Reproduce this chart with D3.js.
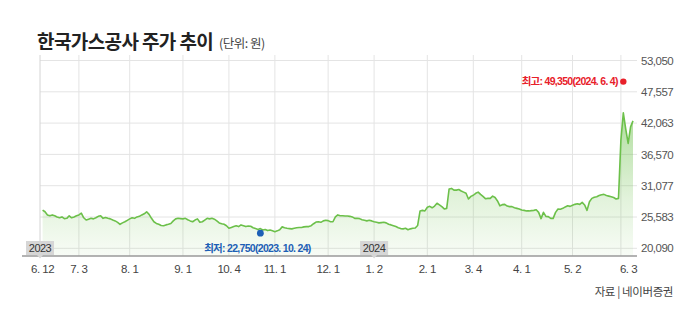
<!DOCTYPE html>
<html>
<head>
<meta charset="utf-8">
<script src="https://cdn.jsdelivr.net/npm/d3@7"></script>
<style>
html, body { margin: 0; padding: 0; background: #fff; }
svg { display: block; }
</style>
</head>
<body>
<svg id="chart" width="700" height="310"></svg>
<script>
// daily closing prices, 2023-06-12 .. 2024-06-11 (trading days)
const closes = [
    26800, 26500, 25950, 25800, 25950, 25800, 25600, 25450, 25600, 25300,
    25350, 25800, 25450, 25600, 25800, 25950, 26250, 25450, 25050, 25200,
    25350, 25250, 25450, 25700, 25800, 25350, 25500, 25350, 25250, 25050,
    24900, 24650, 24300, 24550, 24750, 25000, 25250, 25450, 25350, 25600,
    25700, 25950, 26150, 26500, 26050, 25350, 24750, 24450, 24300, 24100,
    24050, 24200,
    24300, 24450, 24900, 25250, 25350, 25300, 25250, 25350, 25100, 24900,
    24750, 25050, 25250, 24650, 24750, 25050, 25350, 25250, 25350, 25200,
    24900, 24550, 24400, 24300, 24050, 23600, 23750, 23900, 24050, 23900,
    24200, 24050, 23900, 24000, 23950, 23700, 23550, 23400, 23550, 23300,
    23400, 23200, 23300, 23150, 23000, 23150, 23350, 23850, 23700, 23600,
    23550, 23500,
    23600, 23700, 23750, 23750, 23850, 23900, 23900, 24050, 24400, 24700,
    24750, 24650, 24900, 25000, 24950, 24750, 24750, 25600, 25950, 25800,
    25800, 25750, 25750, 25700, 25600, 25350, 25350, 25300, 25100, 25000,
    24900, 25000, 24900, 24750, 24650, 24550, 24600, 24650, 24550, 24300,
    24200, 24050, 23900, 23700, 23550, 23500, 23600, 23350, 23500, 23600,
    23650, 24100,
    26650, 26750, 26650, 27300, 27450, 27200, 27500, 28000, 27700, 27400,
    27000, 27100, 30500, 30600, 30300, 30300, 30400, 30150, 29950, 29750,
    28750, 29200, 29400, 29750, 29950, 29550, 29200, 28800, 28850, 28850,
    29250, 29000, 28400, 27550, 27750, 27800, 27500, 27400, 27400, 27200,
    27100, 27000,
    26800, 26750, 26650, 26650, 26700, 26750, 26850, 26400, 25300, 26400,
    25700, 25650, 25350, 25350, 26400, 27000, 26950, 27100, 27350, 27550,
    27450, 27650, 27800, 27900, 27800, 28150, 27700, 26750, 28250, 28850,
    29050, 29150, 29350, 29500, 29550, 29350, 29250, 29150, 29000, 28750,
    28850, 39100, 43850, 41000, 38500, 41400, 42450
]

const tickIdx    = [0, 15, 36, 58, 77, 96, 118, 137, 159, 178, 198, 219, 239]
const tickLabels = ["6. 12", "7. 3", "8. 1", "9. 1", "10. 4", "11. 1", "12. 1",
                    "1. 2", "2. 1", "3. 4", "4. 1", "5. 2", "6. 3"]
const yTicks     = [20090, 25583, 31077, 36570, 42063, 47557, 53050]

const yearIdx    = [0, 137]
const yearLabels = ["2023", "2024"]

const highIdx = 240, highValue = 49350, highLabel = "최고: 49,350(2024. 6. 4)"
const lowIdx  = 90,  lowValue  = 22750, lowLabel  = "최저: 22,750(2023. 10. 24)"

const svg = d3.select("#chart")

const plotL = 40, plotR = 637, plotT = 55, plotB = 256
const x = d3.scaleLinear().domain([0, closes.length - 1]).range([42.6, 633])
const y = d3.scaleLinear().domain([20090, 53050]).range([248.3, 60.5])

const numFont = "'Liberation Sans', 'Noto Sans CJK KR', sans-serif"
const korFont = "'Noto Sans CJK KR', sans-serif"

// title
svg.append("text")
    .attr("x", 37).attr("y", 49)
    .attr("font-family", korFont)
    .attr("font-size", 19).attr("font-weight", 700)
    .attr("letter-spacing", "-0.6")
    .attr("fill", "#222")
    .text("한국가스공사 주가 추이")
svg.append("text")
    .attr("x", 219).attr("y", 48)
    .attr("font-family", korFont)
    .attr("font-size", 12.5)
    .attr("letter-spacing", "-0.5")
    .attr("fill", "#444")
    .text("(단위: 원)")

// gradient for the area
const defs = svg.append("defs")
const grad = defs.append("linearGradient")
    .attr("id", "areaGrad").attr("gradientUnits", "userSpaceOnUse")
    .attr("x1", 0).attr("x2", 0).attr("y1", 110).attr("y2", plotB)
grad.append("stop").attr("offset", "0%").attr("stop-color", "#6cc04a").attr("stop-opacity", 0.55)
grad.append("stop").attr("offset", "60%").attr("stop-color", "#6cc04a").attr("stop-opacity", 0.2)
grad.append("stop").attr("offset", "100%").attr("stop-color", "#6cc04a").attr("stop-opacity", 0.05)

// grid
const grid = svg.append("g")
grid.selectAll("line.h")
    .data(yTicks)
    .join("line")
    .attr("x1", plotL).attr("x2", plotR)
    .attr("y1", d => y(d)).attr("y2", d => y(d))
    .attr("stroke", "#e4e4e4").attr("stroke-width", 1)
grid.selectAll("line.v")
    .data(tickIdx.slice(1))
    .join("line")
    .attr("x1", d => x(d)).attr("x2", d => x(d))
    .attr("y1", plotT).attr("y2", plotB)
    .attr("stroke", "#e4e4e4").attr("stroke-width", 1)
svg.append("line")
    .attr("x1", plotL).attr("x2", plotL).attr("y1", plotT).attr("y2", plotB)
    .attr("stroke", "#d4d4d4").attr("stroke-width", 1)

// area + line
const area = d3.area()
    .x((d, i) => x(i))
    .y0(plotB)
    .y1(d => y(d))
const line = d3.line()
    .x((d, i) => x(i))
    .y(d => y(d))

svg.append("path")
    .datum(closes)
    .attr("fill", "url(#areaGrad)")
    .attr("d", area)
svg.append("path")
    .datum(closes)
    .attr("fill", "none")
    .attr("stroke", "#6cc04a")
    .attr("stroke-width", 1.6)
    .attr("stroke-linejoin", "round")
    .attr("d", line)

// bottom axis line
svg.append("line")
    .attr("x1", 22).attr("x2", plotR)
    .attr("y1", plotB).attr("y2", plotB)
    .attr("stroke", "#9a9a9a").attr("stroke-width", 1.5)

// y labels (right)
svg.append("g")
    .selectAll("text")
    .data(yTicks)
    .join("text")
    .attr("x", 641).attr("y", d => y(d))
    .attr("dy", "0.36em")
    .attr("font-family", numFont)
    .attr("font-size", 11.5)
    .attr("letter-spacing", "-0.5")
    .attr("fill", "#555")
    .text(d => d3.format(",")(d))

// x labels (last one sits just right of its gridline)
const lastTick = tickIdx.length - 1
svg.append("g")
    .selectAll("text")
    .data(tickIdx)
    .join("text")
    .attr("x", (d, i) => i === lastTick ? x(d) - 1 : x(d)).attr("y", 273)
    .attr("text-anchor", (d, i) => i === lastTick ? "start" : "middle")
    .attr("font-family", numFont)
    .attr("font-size", 11.5)
    .attr("letter-spacing", "-0.5")
    .attr("fill", "#444")
    .text((d, i) => tickLabels[i])

// year badges
const yearG = svg.append("g")
    .selectAll("g")
    .data(yearIdx)
    .join("g")
    .attr("transform", (d, i) => `translate(${i === 0 ? plotL : x(d)},0)`)
yearG.append("rect")
    .attr("x", -14).attr("y", 241).attr("width", 28).attr("height", 14)
    .attr("fill", "#d6d6d6")
yearG.append("path")
    .attr("d", "M-3,255L3,255L0,258.5Z")
    .attr("fill", "#d6d6d6")
yearG.append("text")
    .attr("x", 0).attr("y", 252)
    .attr("text-anchor", "middle")
    .attr("font-family", numFont)
    .attr("font-size", 11)
    .attr("letter-spacing", "-0.5")
    .attr("fill", "#333")
    .text((d, i) => yearLabels[i])

// high / low markers
svg.append("circle")
    .attr("cx", x(highIdx)).attr("cy", y(highValue)).attr("r", 3.2)
    .attr("fill", "#e8202a")
svg.append("text")
    .attr("x", x(highIdx) - 5.5).attr("y", y(highValue) + 3.5)
    .attr("text-anchor", "end")
    .attr("font-family", numFont)
    .attr("font-size", 10.5).attr("font-weight", 700)
    .attr("letter-spacing", "-0.7")
    .attr("fill", "#e8202a")
    .text(highLabel)

svg.append("circle")
    .attr("cx", x(lowIdx)).attr("cy", y(lowValue)).attr("r", 3.4)
    .attr("fill", "#1d5fb6")
svg.append("text")
    .attr("x", x(lowIdx) - 3).attr("y", 251.5)
    .attr("text-anchor", "middle")
    .attr("font-family", numFont)
    .attr("font-size", 10.5).attr("font-weight", 700)
    .attr("letter-spacing", "-0.7")
    .attr("fill", "#1d5fb6")
    .text(lowLabel)

// source
svg.append("text")
    .attr("x", 673).attr("y", 296)
    .attr("text-anchor", "end")
    .attr("font-family", korFont)
    .attr("font-size", 11.5)
    .attr("letter-spacing", "-0.4")
    .attr("fill", "#444")
    .text("자료 | 네이버증권")
</script>
</body>
</html>
